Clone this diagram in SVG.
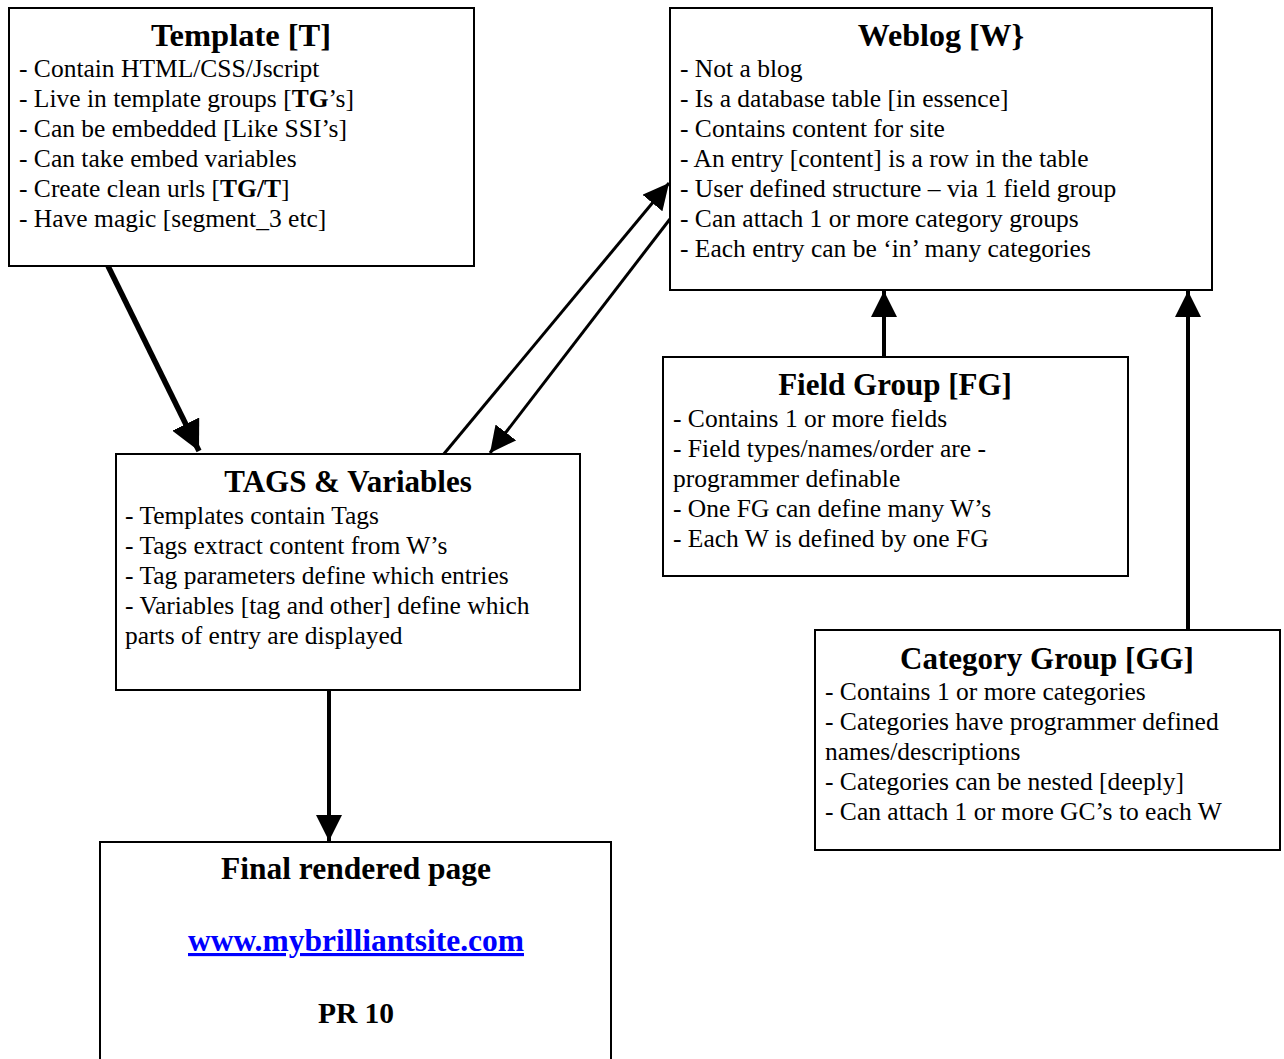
<svg xmlns="http://www.w3.org/2000/svg" width="1284" height="1059" viewBox="0 0 1284 1059">
<style>
.box{fill:#fff;stroke:#000;stroke-width:2}
text{font-family:"Liberation Serif",serif;fill:#000}
.t{font-size:31px;font-weight:bold;text-anchor:middle}
.f{font-size:31.5px;font-weight:bold;text-anchor:middle}
.b{font-size:25.5px}
.c{stroke:#000;fill:none}
</style>
<defs>
<marker id="ah" markerUnits="userSpaceOnUse" markerWidth="32" markerHeight="30" refX="30" refY="15" orient="auto">
<path d="M0,0 L30,15 L0,30 z" fill="#000"/>
</marker>
<marker id="ah2" markerUnits="userSpaceOnUse" markerWidth="28" markerHeight="26" refX="26" refY="13" orient="auto">
<path d="M0,0 L26,13 L0,26 z" fill="#000"/>
</marker>
</defs>
<rect width="1284" height="1059" fill="#fff"/>
<g id="connectors">
<line class="c" x1="108" y1="266" x2="199" y2="451" stroke-width="5.5" marker-end="url(#ah)"/>
<line class="c" x1="443" y1="455" x2="669" y2="183" stroke-width="3" marker-end="url(#ah2)"/>
<line class="c" x1="670" y1="219" x2="490" y2="453" stroke-width="3" marker-end="url(#ah2)"/>
<line class="c" x1="884" y1="357" x2="884" y2="291" stroke-width="4" marker-end="url(#ah2)"/>
<line class="c" x1="1188" y1="630" x2="1188" y2="291" stroke-width="4" marker-end="url(#ah2)"/>
<line class="c" x1="329" y1="690" x2="329" y2="841" stroke-width="4" marker-end="url(#ah2)"/>
</g>
<g id="template">
<rect class="box" x="9" y="8" width="465" height="258"/>
<text class="t" x="241" y="46" style="font-size:32.5px">Template [T]</text>
<text class="b" x="19" y="77">- Contain HTML/CSS/Jscript</text>
<text class="b" x="19" y="107">- Live in template groups [<tspan font-weight="bold">TG</tspan>’s]</text>
<text class="b" x="19" y="137">- Can be embedded [Like SSI’s]</text>
<text class="b" x="19" y="167">- Can take embed variables</text>
<text class="b" x="19" y="197">- Create clean urls [<tspan font-weight="bold">TG/T</tspan>]</text>
<text class="b" x="19" y="227">- Have magic [segment_3 etc]</text>
</g>
<g id="weblog">
<rect class="box" x="670" y="8" width="542" height="282"/>
<text class="t" x="941" y="46" style="font-size:32px">Weblog [W}</text>
<text class="b" x="680" y="77">- Not a blog</text>
<text class="b" x="680" y="107">- Is a database table [in essence]</text>
<text class="b" x="680" y="137">- Contains content for site</text>
<text class="b" x="680" y="167">- An entry [content] is a row in the table</text>
<text class="b" x="680" y="197">- User defined structure – via 1 field group</text>
<text class="b" x="680" y="227">- Can attach 1 or more category groups</text>
<text class="b" x="680" y="257">- Each entry can be ‘in’ many categories</text>
</g>
<g id="fieldgroup">
<rect class="box" x="663" y="357" width="465" height="219"/>
<text class="t" x="895" y="395">Field Group [FG]</text>
<text class="b" x="673" y="427">- Contains 1 or more fields</text>
<text class="b" x="673" y="457">- Field types/names/order are -</text>
<text class="b" x="673" y="487">programmer definable</text>
<text class="b" x="673" y="517">- One FG can define many W’s</text>
<text class="b" x="673" y="547">- Each W is defined by one FG</text>
</g>
<g id="tags">
<rect class="box" x="116" y="454" width="464" height="236"/>
<text class="t" x="348" y="492">TAGS &amp; Variables</text>
<text class="b" x="125" y="524">- Templates contain Tags</text>
<text class="b" x="125" y="554">- Tags extract content from W’s</text>
<text class="b" x="125" y="584">- Tag parameters define which entries</text>
<text class="b" x="125" y="614">- Variables [tag and other] define which</text>
<text class="b" x="125" y="644">parts of entry are displayed</text>
</g>
<g id="categorygroup">
<rect class="box" x="815" y="630" width="465" height="220"/>
<text class="t" x="1047" y="669">Category Group [GG]</text>
<text class="b" x="825" y="700">- Contains 1 or more categories</text>
<text class="b" x="825" y="730">- Categories have programmer defined</text>
<text class="b" x="825" y="760">names/descriptions</text>
<text class="b" x="825" y="790">- Categories can be nested [deeply]</text>
<text class="b" x="825" y="820">- Can attach 1 or more GC’s to each W</text>
</g>
<g id="final">
<rect class="box" x="100" y="842" width="511" height="230"/>
<text class="f" x="356" y="879">Final rendered page</text>
<text class="f" x="356" y="951" style="fill:#0000ff;text-decoration:underline">www.mybrilliantsite.com</text>
<text class="f" x="356" y="1023" style="font-size:29.5px">PR 10</text>
</g>
</svg>
